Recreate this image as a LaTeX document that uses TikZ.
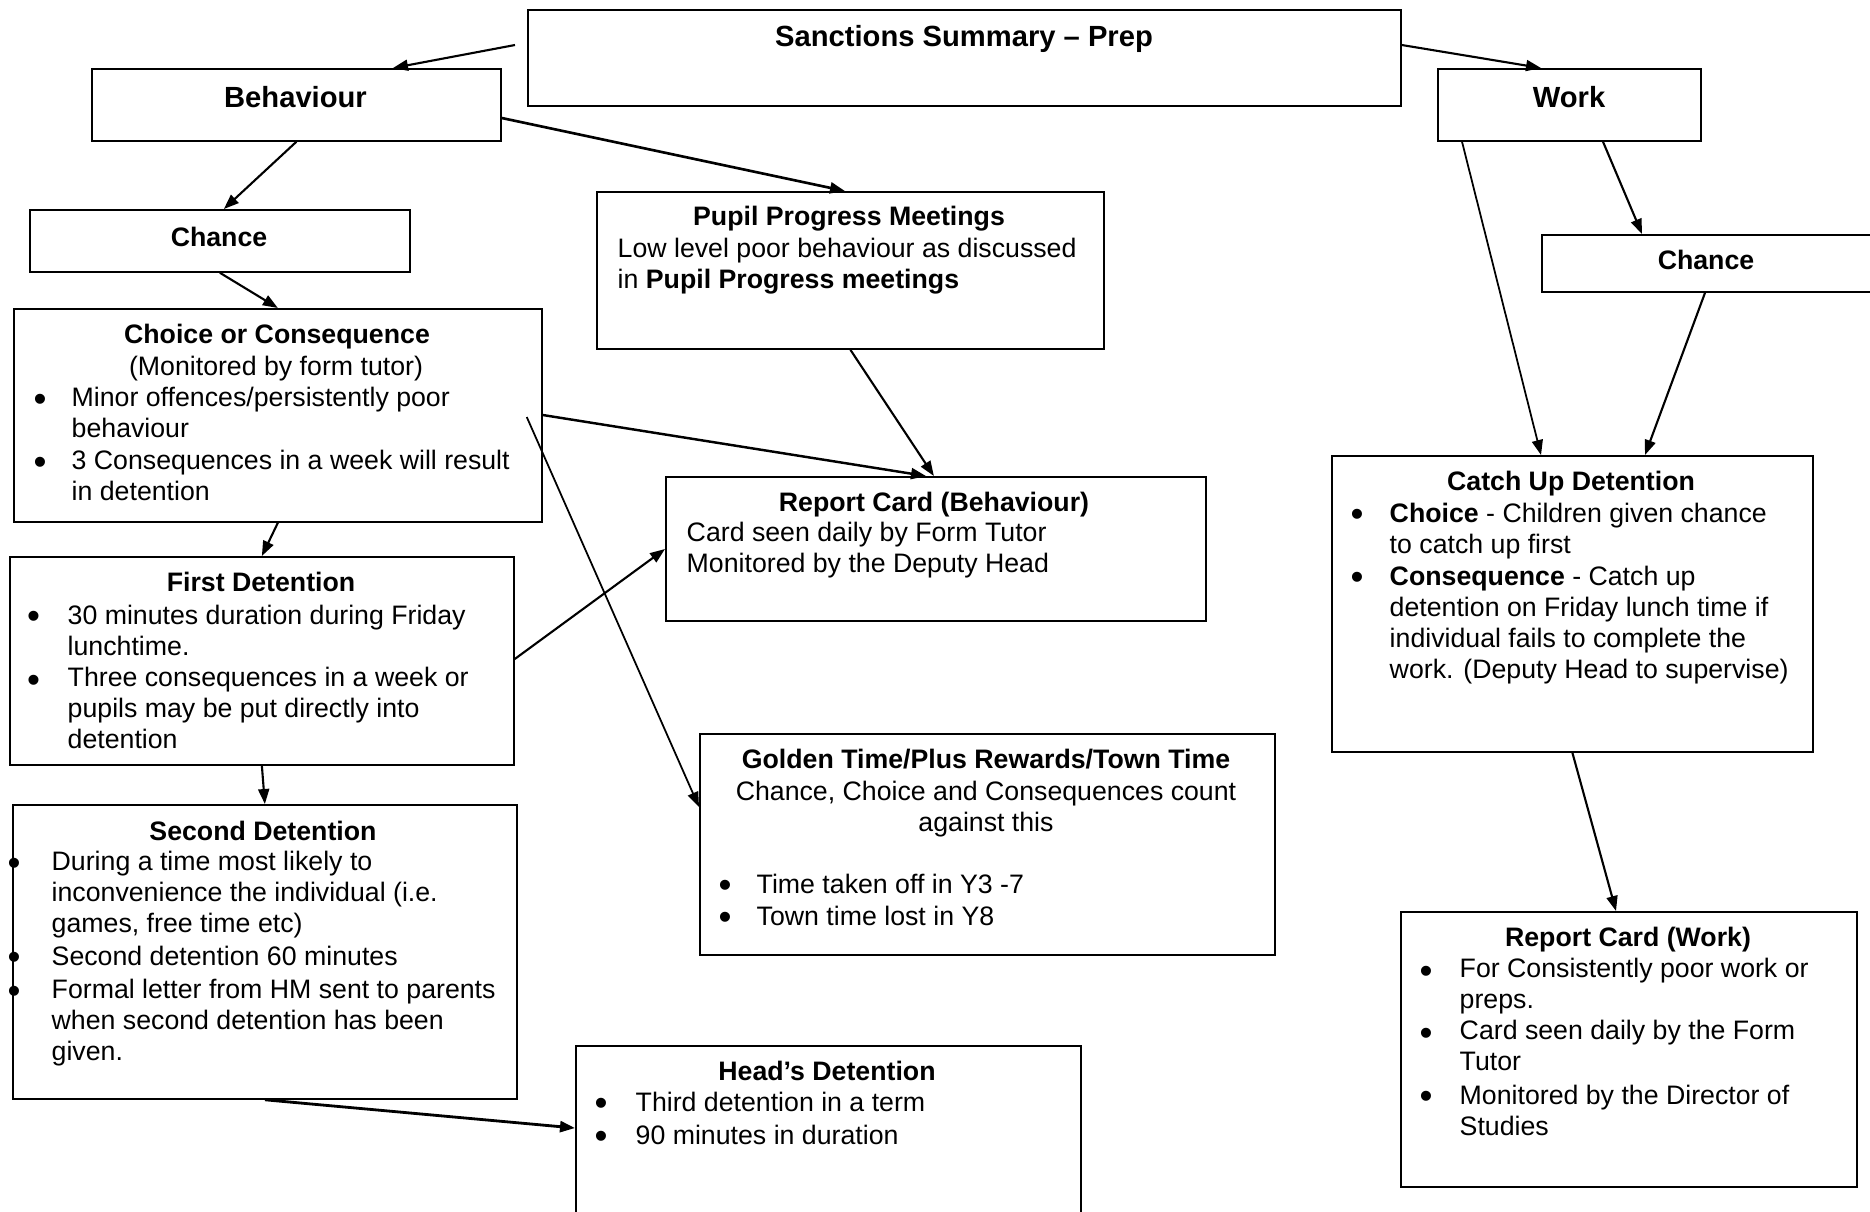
\documentclass[tikz,border=0pt]{standalone}
\usepackage{fontspec}
\setmainfont{Liberation Sans}
\usetikzlibrary{arrows.meta}

\begin{document}
\begin{tikzpicture}[x=0.1mm,y=-0.1mm,
    box/.style={draw,line width=0.5pt,anchor=north west,inner sep=0pt},
    txt/.style={inner sep=0pt,anchor=base west,align=left,font=\fontsize{7.6}{8.7}\selectfont},
    boxtitle/.style={inner sep=0pt,anchor=base,align=center,font=\fontsize{7.6}{8.7}\selectfont\bfseries},
    bigtitle/.style={boxtitle,font=\fontsize{8.3}{9.5}\selectfont\bfseries},
    mid/.style={inner sep=0pt,anchor=base,align=center,font=\fontsize{7.6}{8.7}\selectfont},
    bul/.style={inner sep=0pt,anchor=base,yshift=-0.4mm,font=\fontsize{10.5}{10}\selectfont},
    arr/.style={-{Triangle[length=1.5mm,width=1.1mm]},line width=0.6pt}]
    \useasboundingbox (0,0) rectangle (1870,1211);
    \clip (0,0) rectangle (1870,1211);
    \node[box,minimum width=87.3mm,minimum height=9.6mm] (title) at (527,9) {};
    \node[box,minimum width=40.9mm,minimum height=7.2mm] (beh) at (91,68) {};
    \node[box,minimum width=26.3mm,minimum height=7.2mm] (work) at (1437,68) {};
    \node[box,minimum width=38mm,minimum height=6.2mm] (chL) at (29,209) {};
    \node[box,minimum width=36mm,minimum height=5.7mm] (chR) at (1541,234) {};
    \node[box,minimum width=50.7mm,minimum height=15.7mm] (ppm) at (596,191) {};
    \node[box,minimum width=52.8mm,minimum height=21.3mm] (coc) at (13,308) {};
    \node[box,minimum width=50.4mm,minimum height=20.8mm] (fd) at (9,556) {};
    \node[box,minimum width=50.4mm,minimum height=29.4mm] (sd) at (12,804) {};
    \node[box,minimum width=50.5mm,minimum height=20mm] (hd) at (575,1045) {};
    \node[box,minimum width=57.5mm,minimum height=22.1mm] (gt) at (699,733) {};
    \node[box,minimum width=54mm,minimum height=14.4mm] (rcb) at (665,476) {};
    \node[box,minimum width=48.1mm,minimum height=29.6mm] (cud) at (1331,455) {};
    \node[box,minimum width=45.6mm,minimum height=27.5mm] (rcw) at (1400,911) {};

    \node[bigtitle] (titleT) at (964,46) {Sanctions Summary – Prep};
    \node[bigtitle] (behT) at (295.5,107) {Behaviour};
    \node[bigtitle] (workT) at (1569,107) {Work};
    \node[boxtitle] (chLT) at (219,246) {Chance};
    \node[boxtitle] (chRT) at (1706,269) {Chance};

    \node[boxtitle] (ppmT) at (849,225) {Pupil Progress Meetings};
    \node[txt] (ppmA) at (617,288) {Low level poor behaviour as discussed\\in \textbf{Pupil Progress meetings}};

    \node[boxtitle] (cocT) at (277,343) {Choice or Consequence};
    \node[mid] (cocS) at (276,375) {(Monitored by form tutor)};
    \node[bul] (cocB1) at (40,407) {•};
    \node[txt] (cocA) at (71,437) {Minor offences/persistently poor\\behaviour};
    \node[bul] (cocB2) at (40,470) {•};
    \node[txt] (cocB) at (71,500) {3 Consequences in a week will result\\in detention};

    \node[boxtitle] (fdT) at (261,591) {First Detention};
    \node[bul] (fdB1) at (33.5,624) {•};
    \node[txt] (fdA) at (67,655) {30 minutes duration during Friday\\lunchtime.};
    \node[bul] (fdB2) at (33.5,688) {•};
    \node[txt] (fdB) at (67,748) {Three consequences in a week or\\pupils may be put directly into\\detention};

    \node[boxtitle] (sdT) at (263,840) {Second Detention};
    \node[bul] (sdB1) at (14,871) {•};
    \node[txt] (sdA) at (51,932) {During a time most likely to\\inconvenience the individual (i.e.\\games, free time etc)};
    \node[bul] (sdB2) at (14,965.5) {•};
    \node[txt] (sdB) at (51,965.5) {Second detention 60 minutes};
    \node[bul] (sdB3) at (14,999) {•};
    \node[txt] (sdC) at (51,1060) {Formal letter from HM sent to parents\\when second detention has been\\given.};

    \node[boxtitle] (hdT) at (827,1080) {Head’s Detention};
    \node[bul] (hdB1) at (601,1111) {•};
    \node[txt] (hdA) at (635,1111) {Third detention in a term};
    \node[bul] (hdB2) at (601,1144) {•};
    \node[txt] (hdB) at (635,1144) {90 minutes in duration};

    \node[boxtitle] (gtT) at (986,768) {Golden Time/Plus Rewards/Town Time};
    \node[mid] (gtS) at (986,831) {Chance, Choice and Consequences count\\against this};
    \node[bul] (gtB1) at (725,893) {•};
    \node[txt] (gtA) at (756,893) {Time taken off in Y3 -7};
    \node[bul] (gtB2) at (725,925) {•};
    \node[txt] (gtB) at (756,925) {Town time lost in Y8};

    \node[boxtitle] (rcbT) at (934,511) {Report Card (Behaviour)};
    \node[txt] (rcbA) at (686,572) {Card seen daily by Form Tutor\\Monitored by the Deputy Head};

    \node[boxtitle] (cudT) at (1571,490) {Catch Up Detention};
    \node[bul] (cudB1) at (1357,522) {•};
    \node[txt,font=\fontsize{7.6}{8.8}\selectfont] (cudA) at (1389,553) {\textbf{Choice} - Children given chance\\to catch up first};
    \node[bul] (cudB2) at (1357,585) {•};
    \node[txt,font=\fontsize{7.6}{8.8}\selectfont] (cudB) at (1389,678) {\textbf{Consequence} - Catch up\\detention on Friday lunch time if\\individual fails to complete the\\work. (Deputy Head to supervise)};

    \node[boxtitle] (rcwT) at (1628,946) {Report Card (Work)};
    \node[bul] (rcwB1) at (1426,979) {•};
    \node[txt] (rcwA) at (1459,1008) {For Consistently poor work or\\preps.};
    \node[bul] (rcwB2) at (1426,1041) {•};
    \node[txt] (rcwB) at (1459,1070) {Card seen daily by the Form\\Tutor};
    \node[bul] (rcwB3) at (1426,1104) {•};
    \node[txt] (rcwC) at (1459,1135) {Monitored by the Director of\\Studies};

    \draw[arr] ([xshift=-1.2mm,yshift=-3.6mm]title.north west) -- ([xshift=30.2mm]beh.north west);
    \draw[arr] ([yshift=-3.6mm]title.north east) -- ([xshift=10.4mm]work.north west);
    \draw[arr,line width=0.75pt] ([yshift=-5mm]beh.north east) -- ([xshift=24.9mm]ppm.north west);
    \draw[arr] (beh.south) -- ([xshift=0.4mm]chL.north);
    \draw[arr] (chL.south) -- (coc.north);
    \draw[arr] (coc.south) -- (fd.north);
    \draw[arr] (fd.south) -- (sd.north);
    \draw[arr,line width=0.8pt] (sd.south) -- ([yshift=-8.3mm]hd.north west);
    \draw[arr,line width=0.7pt] ([yshift=-10.7mm]coc.north east) -- ([xshift=26.1mm]rcb.north west);
    \draw[arr] (ppm.south) -- ([xshift=-0.2mm]rcb.north);
    \draw[arr] ([yshift=-10.3mm]fd.north east) -- ([yshift=-7.3mm]rcb.north west);
    \draw[arr,line width=0.5pt] ([xshift=-1.6mm,yshift=-10.9mm]coc.north east) -- ([yshift=-7.4mm]gt.north west);
    \draw[arr,line width=0.5pt] ([xshift=2.5mm]work.south west) -- ([xshift=21mm]cud.north west);
    \draw[arr] ([xshift=16.6mm]work.south west) -- ([xshift=10.1mm]chR.north west);
    \draw[arr] ([xshift=16.4mm]chR.south west) -- ([xshift=31.4mm]cud.north west);
    \draw[arr] (cud.south) -- ([xshift=21.6mm]rcw.north west);
\end{tikzpicture}
\end{document}
